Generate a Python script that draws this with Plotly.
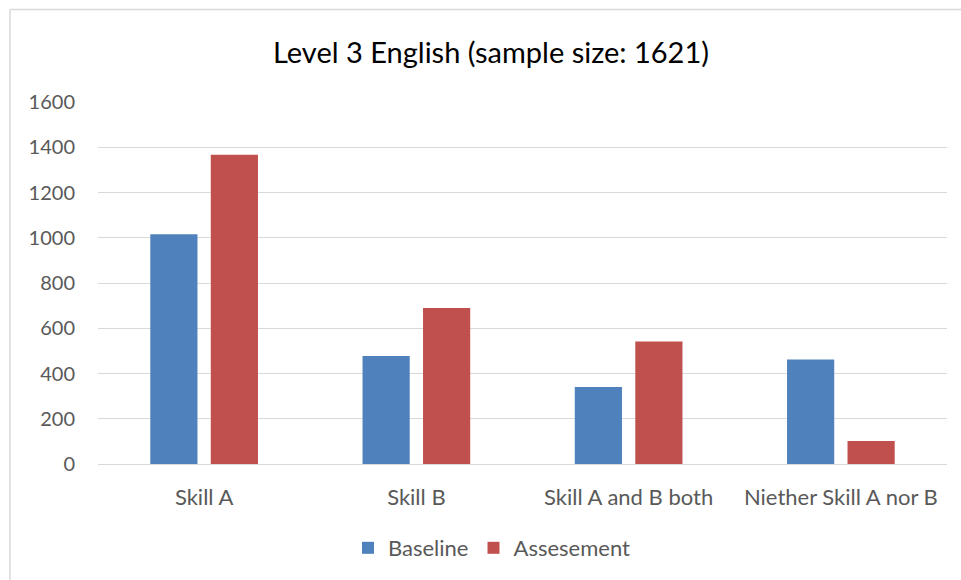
import plotly.graph_objects as go

categories = ["Skill A", "Skill B", "Skill A and B both", "Niether Skill A nor B"]
baseline = [1016, 477, 340, 462]
assessment = [1367, 690, 541, 102]
y_ticks = [0, 200, 400, 600, 800, 1000, 1200, 1400, 1600]

W, H = 961, 580
L, R, T, B = 98, 14, 102, 116
pw = W - L - R
ph = H - T - B

def px(x):
    return (x - L) / pw

def py(y):
    return (H - B - y) / ph

font = "Lato, 'Open Sans', sans-serif"
grey = "#595959"

fig = go.Figure()
fig.add_trace(go.Bar(x=categories, y=baseline, name="Baseline",
                     marker=dict(color="#4F81BD", line=dict(width=0))))
fig.add_trace(go.Bar(x=categories, y=assessment, name="Assesement",
                     marker=dict(color="#C0504D", line=dict(width=0))))

fig.update_layout(
    width=W, height=H,
    margin=dict(l=L, r=R, t=T, b=B, autoexpand=False),
    paper_bgcolor="white", plot_bgcolor="white",
    barmode="group", bargap=0.43, bargroupgap=0.22,
    font=dict(family=font, size=20, color=grey),
    title=dict(text="Level 3 English (sample size: 1621)",
               font=dict(family=font, size=29, color="#000000"),
               x=px(491), xanchor="center", xref="paper",
               y=1 - 53 / H, yanchor="middle"),
    xaxis=dict(showgrid=False, showline=True, linecolor="#D9D9D9", linewidth=1,
               ticks="", ticklabelstandoff=14,
               tickfont=dict(size=22, color=grey), fixedrange=True),
    yaxis=dict(range=[0, 1600], tickvals=y_ticks, showgrid=True,
               gridcolor="#D9D9D9", gridwidth=1, zeroline=False, showline=False,
               ticks="", ticklabelstandoff=22,
               tickfont=dict(size=20, color=grey), fixedrange=True),
    legend=dict(orientation="h", x=px(492), xanchor="center",
                y=py(548), yanchor="middle", font=dict(size=22, color=grey),
                itemwidth=30, traceorder="normal"),
    showlegend=True,
)

fig.add_shape(type="line", xref="paper", yref="paper",
              x0=px(10), x1=px(W + 5), y0=py(9.5), y1=py(9.5),
              line=dict(color="#D9D9D9", width=1.5))
fig.add_shape(type="line", xref="paper", yref="paper",
              x0=px(10), x1=px(10), y0=py(9.5), y1=py(H + 5),
              line=dict(color="#D9D9D9", width=1.5))

fig.write_html("out.html", config={"displayModeBar": False},
               post_script="document.body.style.margin='0';")
